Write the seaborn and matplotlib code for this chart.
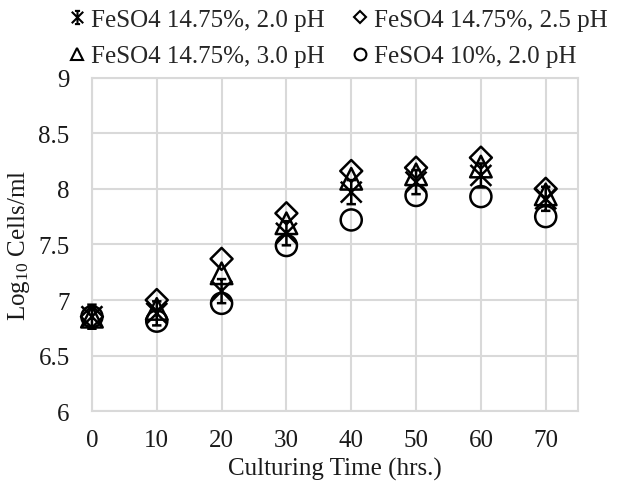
import numpy as np
import pandas as pd
import matplotlib
matplotlib.use("Agg")
import matplotlib.pyplot as plt
from matplotlib.path import Path
from matplotlib.lines import Line2D
import seaborn as sns

# Culturing time points (hrs.)
hours = [0, 10, 20, 30, 40, 50, 60, 70]

# Log10 cell densities per culture condition
feso4_1475_ph20 = [6.85, 6.88, 7.08, 7.60, 7.97, 8.06, 8.12, 7.91]
feso4_1475_ph25 = [6.85, 7.00, 7.37, 7.78, 8.16, 8.19, 8.28, 8.00]
feso4_1475_ph30 = [6.85, 6.92, 7.24, 7.69, 8.09, 8.13, 8.20, 7.95]
feso4_10_ph20 = [6.85, 6.81, 6.97, 7.49, 7.72, 7.94, 7.93, 7.75]

labels = ["FeSO4 14.75%, 2.0 pH", "FeSO4 14.75%, 2.5 pH",
          "FeSO4 14.75%, 3.0 pH", "FeSO4 10%, 2.0 pH"]
series = [feso4_1475_ph20, feso4_1475_ph25, feso4_1475_ph30, feso4_10_ph20]

df = pd.concat([
    pd.DataFrame({"hours": hours, "cells": vals, "condition": lab})
    for lab, vals in zip(labels, series)
])

# Asterisk with caps (vertical bar, X, and short horizontal serifs)
star_path = Path(
    [(-1, -1), (1, 1), (-1, 1), (1, -1), (0, -1.15), (0, 1.15),
     (-0.45, 1.15), (0.45, 1.15), (-0.45, -1.15), (0.45, -1.15)],
    [Path.MOVETO, Path.LINETO] * 5,
)
markers = {labels[0]: star_path, labels[1]: "D", labels[2]: "^", labels[3]: "o"}
sizes = {labels[0]: 300, labels[1]: 125, labels[2]: 240, labels[3]: 230}

sns.set_style("white")
plt.rcParams["font.family"] = ["Liberation Serif", "DejaVu Serif"]
plt.rcParams["mathtext.fontset"] = "custom"
plt.rcParams["mathtext.rm"] = "Liberation Serif"
plt.rcParams["mathtext.it"] = "Liberation Serif:italic"

fig = plt.figure(figsize=(6.17, 4.85), dpi=100)
ax = fig.add_axes([0.149, 0.150, 0.788, 0.688])

for lab in [labels[3], labels[0], labels[2], labels[1]]:
    sub = df[df["condition"] == lab]
    sns.scatterplot(data=sub, x="hours", y="cells", ax=ax, marker=markers[lab],
                    s=sizes[lab], facecolor="none", edgecolor="black",
                    linewidth=1.8, legend=False, zorder=3, clip_on=False)

ax.set_xlim(0, 75)
ax.set_ylim(6, 9)
ax.set_xticks(hours)
yt = [6, 6.5, 7, 7.5, 8, 8.5, 9]
ax.set_yticks(yt)
ax.set_yticklabels([f"{v:g}" for v in yt])
ax.tick_params(axis="both", length=0, labelsize=18, colors="#1a1a1a")
ax.tick_params(axis="x", pad=13)
ax.tick_params(axis="y", pad=16)
ax.grid(True, color="#d9d9d9", linewidth=1.5)
ax.set_axisbelow(True)
for sp in ax.spines.values():
    sp.set_color("#d9d9d9")
    sp.set_linewidth(1.5)

ax.set_xlabel("Culturing Time (hrs.)", fontsize=18, labelpad=4, color="#1a1a1a")
ax.set_ylabel(r"Log$_{10}$ Cells/ml", fontsize=18, labelpad=5, color="#1a1a1a")

handle_markers = [star_path, "D", "^", "o"]
handle_sizes = [9.5, 6.5, 8.5, 8.5]
handles = [Line2D([], [], linestyle="none", marker=m, markersize=ms,
                  markerfacecolor="none", markeredgecolor="black",
                  markeredgewidth=1.5)
           for m, ms in zip(handle_markers, handle_sizes)]
order = [0, 2, 1, 3]
fig.legend([handles[i] for i in order], [labels[i] for i in order],
           loc="upper center", bbox_to_anchor=(0.549, 0.98), ncol=2,
           frameon=False, fontsize=18, handletextpad=0.25, columnspacing=1.1,
           labelspacing=0.55, handlelength=0.6, borderpad=0, borderaxespad=0)

fig.savefig("out.png", dpi=100)
